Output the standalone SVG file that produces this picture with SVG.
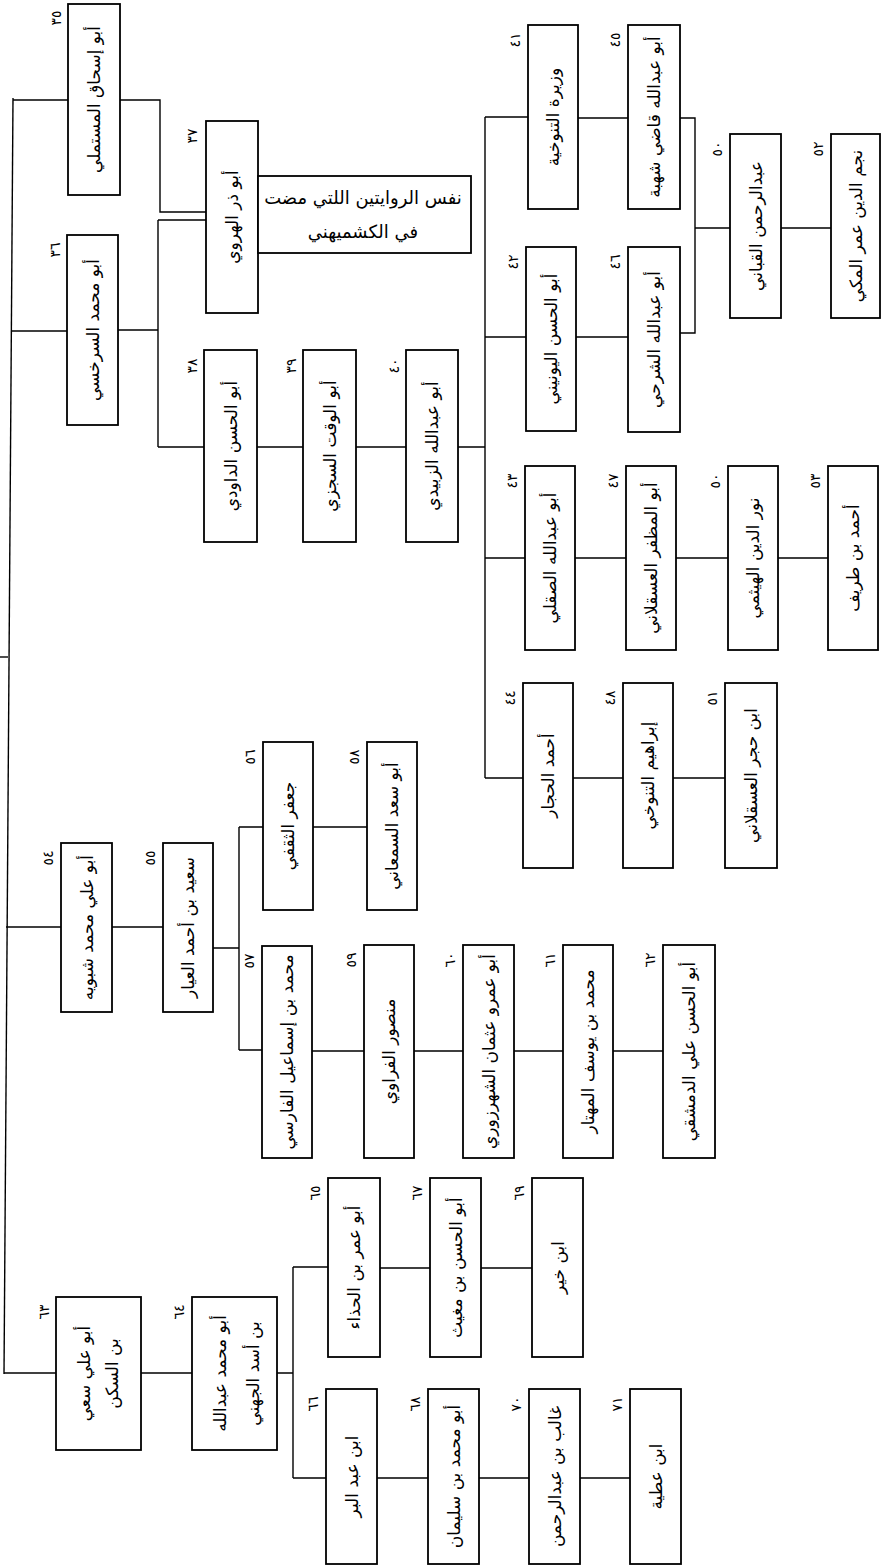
<svg xmlns="http://www.w3.org/2000/svg" width="881" height="1567" viewBox="0 0 881 1567">
<style>
rect.b{fill:#fff;stroke:#000;stroke-width:1.8}
text{font-family:"DejaVu Sans",sans-serif;fill:#000}
text.t{font-size:17px;text-anchor:middle;dominant-baseline:central}
text.n{font-size:14px;text-anchor:middle;dominant-baseline:central}
text.h{font-size:18px;text-anchor:middle}
#conn path,#conn line{fill:none;stroke:#000;stroke-width:1.4}
</style>
<rect width="881" height="1567" fill="#fff"/>
<g id="conn">
<line x1="13" y1="98" x2="4" y2="1374"/>
<line x1="0" y1="657" x2="8" y2="657"/>
<line x1="13" y1="100" x2="68" y2="100"/>
<line x1="12" y1="331" x2="67" y2="331"/>
<line x1="6" y1="927" x2="61" y2="927"/>
<line x1="4" y1="1373" x2="56" y2="1373"/>
<path d="M120 100H160V212H206"/>
<path d="M118 330H158M158 220V447M158 220H206M158 447H204"/>
<path d="M257 447H303M356 447H406M458 447H485"/>
<path d="M485 117V778M485 117H528M485 337H526M485 558H525M485 778H523"/>
<path d="M578 118H628M576 337H628"/>
<path d="M680 118H695V333H680M695 228H730M781 228H831"/>
<path d="M575 558H626M676 558H728M778 558H828"/>
<path d="M573 778H623M673 778H725"/>
<path d="M112 927H163M213 948H239M239 827V1050M239 827H263M239 1050H262M313 827H367"/>
<path d="M312 1051H364M414 1051H463M514 1051H563M613 1051H663"/>
<path d="M141 1373H192M277 1373H293M293 1267V1478M293 1267H328M293 1478H326"/>
<path d="M380 1268H430M481 1268H532"/>
<path d="M377 1478H428M479 1478H529M580 1478H630"/>
</g>
<g id="n35"><rect class="b" x="68" y="4" width="52" height="191"/><text class="t" x="94" y="99.5" transform="rotate(-90 94 99.5)">أبو إسحاق المستملي</text><text class="n" x="56" y="18" transform="rotate(-90 56 18)">٣٥</text></g>
<g id="n36"><rect class="b" x="67" y="235" width="51" height="190"/><text class="t" x="92.5" y="330" transform="rotate(-90 92.5 330)">أبو محمد السرخسي</text><text class="n" x="55" y="250" transform="rotate(-90 55 250)">٣٦</text></g>
<g id="n37"><rect class="b" x="206" y="121" width="52" height="192"/><text class="t" x="232" y="217" transform="rotate(-90 232 217)">أبو ذر الهروي</text><text class="n" x="192" y="136" transform="rotate(-90 192 136)">٣٧</text></g>
<g id="note"><rect class="b" x="258" y="176" width="213" height="77"/><text class="h" x="363" y="204">نفس الروايتين اللتي مضت</text><text class="h" x="363" y="238">في الكشميهني</text></g>
<g id="n38"><rect class="b" x="204" y="350" width="53" height="192"/><text class="t" x="230.5" y="446" transform="rotate(-90 230.5 446)">أبو الحسن الداودي</text><text class="n" x="192" y="366" transform="rotate(-90 192 366)">٣٨</text></g>
<g id="n39"><rect class="b" x="303" y="350" width="53" height="192"/><text class="t" x="329.5" y="446" transform="rotate(-90 329.5 446)">أبو الوقت السجزي</text><text class="n" x="291" y="366" transform="rotate(-90 291 366)">٣٩</text></g>
<g id="n40"><rect class="b" x="406" y="350" width="52" height="192"/><text class="t" x="432" y="446" transform="rotate(-90 432 446)">أبو عبدالله الزبيدي</text><text class="n" x="394" y="366" transform="rotate(-90 394 366)">٤٠</text></g>
<g id="n41"><rect class="b" x="528" y="25" width="50" height="184"/><text class="t" x="553" y="117" transform="rotate(-90 553 117)">وزيرة التنوخية</text><text class="n" x="515" y="40" transform="rotate(-90 515 40)">٤١</text></g>
<g id="n42"><rect class="b" x="526" y="247" width="50" height="184"/><text class="t" x="551" y="339" transform="rotate(-90 551 339)">أبو الحسن اليونيني</text><text class="n" x="513" y="262" transform="rotate(-90 513 262)">٤٢</text></g>
<g id="n43"><rect class="b" x="525" y="466" width="50" height="184"/><text class="t" x="550" y="558" transform="rotate(-90 550 558)">أبو عبدالله الصقلي</text><text class="n" x="512" y="481" transform="rotate(-90 512 481)">٤٣</text></g>
<g id="n44"><rect class="b" x="523" y="683" width="50" height="185"/><text class="t" x="548" y="775.5" transform="rotate(-90 548 775.5)">أحمد الحجار</text><text class="n" x="510" y="698" transform="rotate(-90 510 698)">٤٤</text></g>
<g id="n45"><rect class="b" x="628" y="25" width="52" height="184"/><text class="t" x="654" y="117" transform="rotate(-90 654 117)">أبو عبدالله قاضي شهبة</text><text class="n" x="615" y="40" transform="rotate(-90 615 40)">٤٥</text></g>
<g id="n46"><rect class="b" x="628" y="247" width="52" height="185"/><text class="t" x="654" y="339.5" transform="rotate(-90 654 339.5)">أبو عبدالله الشرحي</text><text class="n" x="615" y="262" transform="rotate(-90 615 262)">٤٦</text></g>
<g id="n47"><rect class="b" x="626" y="466" width="50" height="184"/><text class="t" x="651" y="558" transform="rotate(-90 651 558)">أبو المظفر العسقلاني</text><text class="n" x="613" y="481" transform="rotate(-90 613 481)">٤٧</text></g>
<g id="n48"><rect class="b" x="623" y="683" width="50" height="185"/><text class="t" x="648" y="775.5" transform="rotate(-90 648 775.5)">إبراهيم التنوخي</text><text class="n" x="610" y="698" transform="rotate(-90 610 698)">٤٨</text></g>
<g id="n50a"><rect class="b" x="730" y="134" width="51" height="184"/><text class="t" x="755.5" y="226" transform="rotate(-90 755.5 226)">عبدالرحمن القباني</text><text class="n" x="717" y="149" transform="rotate(-90 717 149)">٥٠</text></g>
<g id="n50b"><rect class="b" x="728" y="466" width="50" height="184"/><text class="t" x="753" y="558" transform="rotate(-90 753 558)">نور الدين الهيثمي</text><text class="n" x="715" y="481" transform="rotate(-90 715 481)">٥٠</text></g>
<g id="n51"><rect class="b" x="725" y="683" width="52" height="185"/><text class="t" x="751" y="775.5" transform="rotate(-90 751 775.5)">ابن حجر العسقلاني</text><text class="n" x="712" y="698" transform="rotate(-90 712 698)">٥١</text></g>
<g id="n52"><rect class="b" x="831" y="134" width="49" height="184"/><text class="t" x="855.5" y="226" transform="rotate(-90 855.5 226)">نجم الدين عمر المكي</text><text class="n" x="818" y="149" transform="rotate(-90 818 149)">٥٢</text></g>
<g id="n53"><rect class="b" x="828" y="466" width="50" height="184"/><text class="t" x="853" y="558" transform="rotate(-90 853 558)">أحمد بن طريف</text><text class="n" x="815" y="481" transform="rotate(-90 815 481)">٥٣</text></g>
<g id="n54"><rect class="b" x="61" y="843" width="51" height="169"/><text class="t" x="86.5" y="927.5" transform="rotate(-90 86.5 927.5)">أبو علي محمد شبويه</text><text class="n" x="48" y="858" transform="rotate(-90 48 858)">٥٤</text></g>
<g id="n55"><rect class="b" x="163" y="843" width="50" height="169"/><text class="t" x="188" y="927.5" transform="rotate(-90 188 927.5)">سعيد بن أحمد العيار</text><text class="n" x="150" y="858" transform="rotate(-90 150 858)">٥٥</text></g>
<g id="n56"><rect class="b" x="263" y="742" width="50" height="168"/><text class="t" x="288" y="826" transform="rotate(-90 288 826)">جعفر الثقفي</text><text class="n" x="250" y="757" transform="rotate(-90 250 757)">٥٦</text></g>
<g id="n57"><rect class="b" x="262" y="946" width="50" height="212"/><text class="t" x="287" y="1052" transform="rotate(-90 287 1052)">محمد بن إسماعيل الفارسي</text><text class="n" x="249" y="961" transform="rotate(-90 249 961)">٥٧</text></g>
<g id="n58"><rect class="b" x="367" y="742" width="50" height="168"/><text class="t" x="392" y="826" transform="rotate(-90 392 826)">أبو سعد السمعاني</text><text class="n" x="354" y="757" transform="rotate(-90 354 757)">٥٨</text></g>
<g id="n59"><rect class="b" x="364" y="945" width="50" height="213"/><text class="t" x="389" y="1051.5" transform="rotate(-90 389 1051.5)">منصور الفراوي</text><text class="n" x="351" y="960" transform="rotate(-90 351 960)">٥٩</text></g>
<g id="n60"><rect class="b" x="463" y="945" width="51" height="213"/><text class="t" x="488.5" y="1051.5" transform="rotate(-90 488.5 1051.5)">أبو عمرو عثمان الشهرزوري</text><text class="n" x="450" y="960" transform="rotate(-90 450 960)">٦٠</text></g>
<g id="n61"><rect class="b" x="563" y="945" width="50" height="213"/><text class="t" x="588" y="1051.5" transform="rotate(-90 588 1051.5)">محمد بن يوسف المهتار</text><text class="n" x="550" y="960" transform="rotate(-90 550 960)">٦١</text></g>
<g id="n62"><rect class="b" x="663" y="945" width="52" height="213"/><text class="t" x="689" y="1051.5" transform="rotate(-90 689 1051.5)">أبو الحسن علي الدمشقي</text><text class="n" x="650" y="960" transform="rotate(-90 650 960)">٦٢</text></g>
<g id="n63"><rect class="b" x="56" y="1297" width="85" height="153"/><text class="t" x="84" y="1373.5" transform="rotate(-90 84 1373.5)">أبو علي سعي</text><text class="t" x="112" y="1373.5" transform="rotate(-90 112 1373.5)">بن السكن</text><text class="n" x="44" y="1312" transform="rotate(-90 44 1312)">٦٣</text></g>
<g id="n64"><rect class="b" x="192" y="1297" width="85" height="153"/><text class="t" x="220" y="1373.5" transform="rotate(-90 220 1373.5)">أبو محمد عبدالله</text><text class="t" x="253" y="1373.5" transform="rotate(-90 253 1373.5)">بن أسد الجهني</text><text class="n" x="179" y="1312" transform="rotate(-90 179 1312)">٦٤</text></g>
<g id="n65"><rect class="b" x="328" y="1178" width="52" height="179"/><text class="t" x="354" y="1267.5" transform="rotate(-90 354 1267.5)">أبو عمر بن الحذاء</text><text class="n" x="315" y="1193" transform="rotate(-90 315 1193)">٦٥</text></g>
<g id="n66"><rect class="b" x="326" y="1389" width="51" height="175"/><text class="t" x="351.5" y="1476.5" transform="rotate(-90 351.5 1476.5)">ابن عبد البر</text><text class="n" x="313" y="1404" transform="rotate(-90 313 1404)">٦٦</text></g>
<g id="n67"><rect class="b" x="430" y="1178" width="51" height="179"/><text class="t" x="455.5" y="1267.5" transform="rotate(-90 455.5 1267.5)">أبو الحسن بن مغيث</text><text class="n" x="417" y="1193" transform="rotate(-90 417 1193)">٦٧</text></g>
<g id="n68"><rect class="b" x="428" y="1389" width="51" height="175"/><text class="t" x="453.5" y="1476.5" transform="rotate(-90 453.5 1476.5)">أبو محمد بن سليمان</text><text class="n" x="415" y="1404" transform="rotate(-90 415 1404)">٦٨</text></g>
<g id="n69"><rect class="b" x="532" y="1178" width="51" height="179"/><text class="t" x="557.5" y="1267.5" transform="rotate(-90 557.5 1267.5)">ابن خير</text><text class="n" x="519" y="1193" transform="rotate(-90 519 1193)">٦٩</text></g>
<g id="n70"><rect class="b" x="529" y="1389" width="51" height="175"/><text class="t" x="554.5" y="1476.5" transform="rotate(-90 554.5 1476.5)">غالب بن عبدالرحمن</text><text class="n" x="516" y="1404" transform="rotate(-90 516 1404)">٧٠</text></g>
<g id="n71"><rect class="b" x="630" y="1389" width="51" height="175"/><text class="t" x="655.5" y="1476.5" transform="rotate(-90 655.5 1476.5)">ابن عطية</text><text class="n" x="617" y="1404" transform="rotate(-90 617 1404)">٧١</text></g>
</svg>
